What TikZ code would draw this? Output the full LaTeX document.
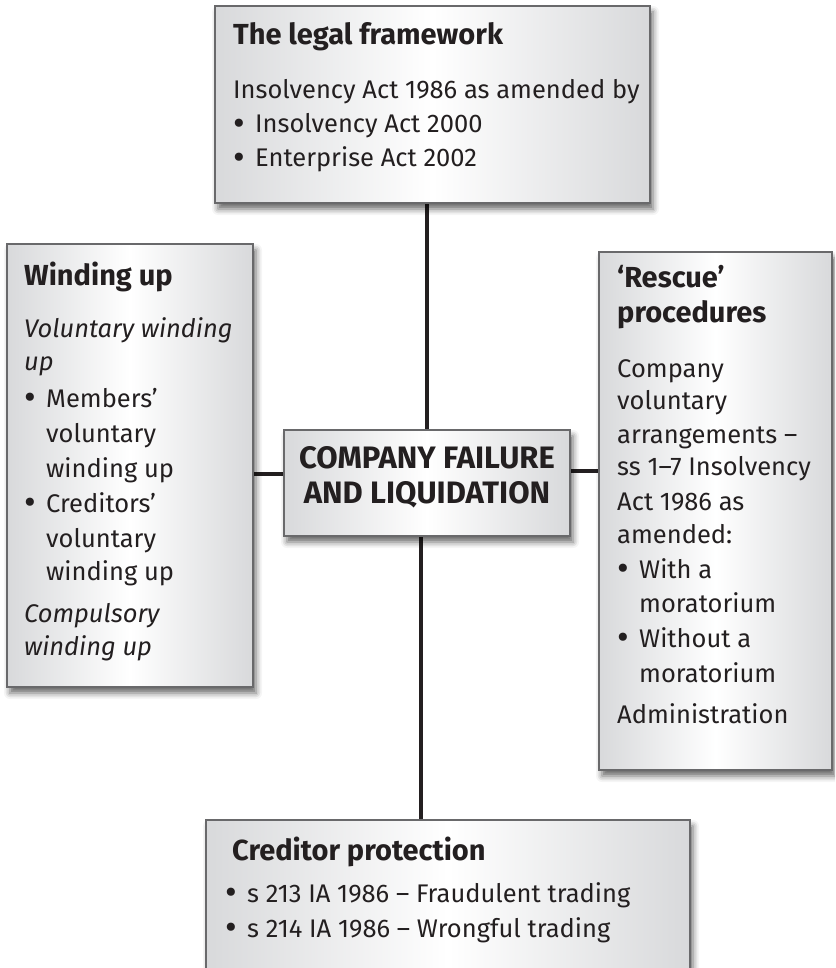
\documentclass[tikz,border=0pt]{standalone}
\usepackage{fontspec}
\setmainfont{Fira Sans}
\usetikzlibrary{shadows.blur,fit}
\definecolor{boxedge}{RGB}{216,217,219}
\definecolor{bordergray}{RGB}{105,105,107}
\definecolor{txt}{RGB}{35,31,32}
\newcommand{\bodyf}{\fontsize{25.5}{33}\selectfont}
\newcommand{\ttlf}{\fontsize{29}{33}\selectfont\bfseries}
\newcommand{\bul}{\makebox[22pt][l]{\raisebox{-2.5pt}{\fontsize{36}{36}\selectfont\textbullet}}}
\tikzset{
  box/.style={draw=bordergray, line width=2pt, left color=boxedge, right color=boxedge, middle color=white,
    blur shadow={shadow xshift=3pt, shadow yshift=-6pt, shadow blur radius=6pt, shadow opacity=60}, inner sep=0pt},
  ln/.style={anchor=base west, inner sep=0pt, font=\bodyf, text=txt},
  ttl/.style={anchor=base west, inner sep=0pt, font=\ttlf, text=txt},
  ctr/.style={anchor=base, inner sep=0pt, font=\fontsize{31}{33}\selectfont\bfseries, text=txt},
  conn/.style={line width=3.2pt, draw=txt}
}
\begin{document}
\begin{tikzpicture}[x=1pt,y=-1pt]
\useasboundingbox (0,0) rectangle (835,968);
\clip (0,0) rectangle (835,968);
% coordinates of box corners
\coordinate (t1) at (215,6);   \coordinate (t2) at (650,203);
\coordinate (l1) at (7,244);   \coordinate (l2) at (253,687);
\coordinate (c1) at (284,430); \coordinate (c2) at (570,536);
\coordinate (r1) at (599,252); \coordinate (r2) at (832,770);
\coordinate (b1) at (206,820); \coordinate (b2) at (690,1000);
% frames used for connectors
\node[fit=(t1)(t2), inner sep=0pt] (topf) {};
\node[fit=(c1)(c2), inner sep=0pt] (cenf) {};
\node[fit=(l1)(l2), inner sep=0pt] (leftf) {};
\node[fit=(r1)(r2), inner sep=0pt] (rightf) {};
\node[fit=(b1)(b2), inner sep=0pt] (botf) {};
\coordinate (tx) at (427,0);
\coordinate (bx) at (421,0);
\coordinate (ly) at (0,474);
\coordinate (ry) at (0,471);
\draw[conn] (topf.south -| tx) -- (cenf.north -| tx);
\draw[conn] (cenf.south -| bx) -- (botf.north -| bx);
\draw[conn] (leftf.east |- ly) -- (cenf.west |- ly);
\draw[conn] (cenf.east |- ry) -- (rightf.west |- ry);
% boxes
\node[box, fit=(t1)(t2)] (top) {};
\node[box, fit=(l1)(l2)] (left) {};
\node[box, fit=(c1)(c2)] (cen) {};
\node[box, fit=(r1)(r2)] (right) {};
\node[box, fit=(b1)(b2)] (bot) {};
% top box text
\node[ttl] (t0) at (233,45) {The legal framework};
\node[ln] (ta) at (233,99) {Insolvency Act 1986 as amended by};
\node[ln] (tb) at (233,133) {\bul Insolvency Act 2000};
\node[ln] (tc) at (233,167) {\bul Enterprise Act 2002};
% left box text
\node[ttl] (l0) at (24,285) {Winding up};
\node[ln] (la) at (24,337) {\itshape Voluntary winding};
\node[ln] (lb) at (24,370) {\itshape up};
\node[ln] (lc) at (24,407) {\bul Members’};
\node[ln] (ld) at (46,442) {voluntary};
\node[ln] (le) at (46,477) {winding up};
\node[ln] (lf) at (24,512) {\bul Creditors’};
\node[ln] (lg) at (46,547) {voluntary};
\node[ln] (lh) at (46,580) {winding up};
\node[ln] (li) at (24,622) {\itshape Compulsory};
\node[ln] (lj) at (24,655) {\itshape winding up};
% centre
\node[ctr] (ca) at (427,468) {COMPANY FAILURE};
\node[ctr] (cb) at (427,503) {AND LIQUIDATION};
% right box text
\node[ttl] (r0) at (617,287) {‘Rescue’};
\node[ttl] (r00) at (617,322) {procedures};
\node[ln] (ra) at (617,377) {Company};
\node[ln] (rb) at (617,409) {voluntary};
\node[ln] (rc) at (617,443) {arrangements –};
\node[ln] (rd) at (617,475) {ss 1–7 Insolvency};
\node[ln] (re) at (617,510) {Act 1986 as};
\node[ln] (rf) at (617,543) {amended:};
\node[ln] (rg) at (617,578) {\bul With a};
\node[ln] (rh) at (639,612) {moratorium};
\node[ln] (ri) at (617,647) {\bul Without a};
\node[ln] (rj) at (639,682) {moratorium};
\node[ln] (rk) at (617,723) {Administration};
% bottom box text
\node[ttl] (b0) at (232,860) {Creditor protection};
\node[ln] (ba) at (225,902) {\bul s 213 IA 1986 – Fraudulent trading};
\node[ln] (bb) at (225,937) {\bul s 214 IA 1986 – Wrongful trading};
\end{tikzpicture}
\end{document}
